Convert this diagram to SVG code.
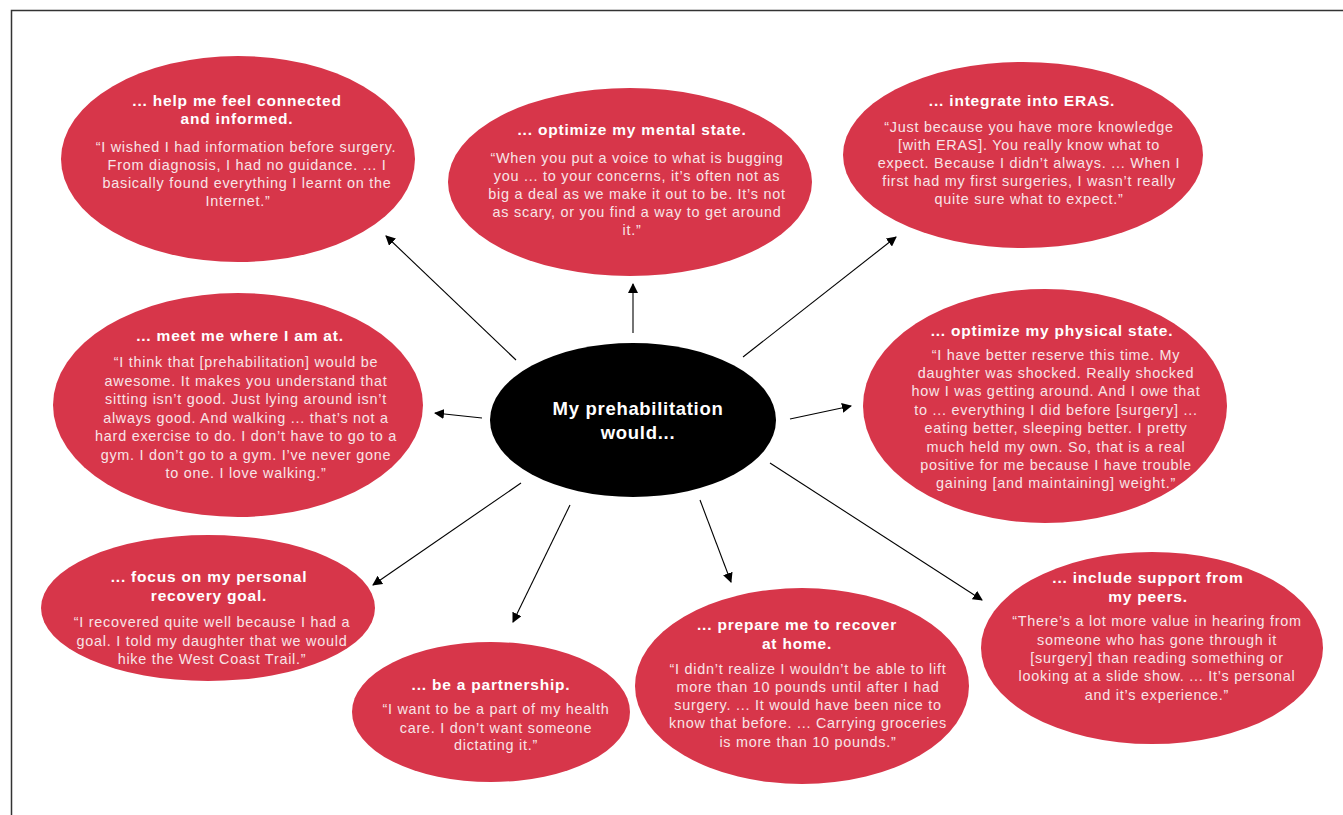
<svg xmlns="http://www.w3.org/2000/svg" width="1343" height="815" viewBox="0 0 1343 815">
<defs>
<marker id="ah" viewBox="0 0 10 10" refX="9" refY="5" markerWidth="10" markerHeight="10" markerUnits="userSpaceOnUse" orient="auto">
<path d="M0,0 L10,5 L0,10 z" fill="#000"/>
</marker>
<style>
.bub{fill:#d7364a}
.hub{fill:#000}
.t{font-family:"Liberation Sans",Arial,sans-serif;font-weight:bold;font-size:15.5px;fill:#fff;text-anchor:middle;letter-spacing:0.8px}
.q{font-family:"Liberation Sans",Arial,sans-serif;font-size:14.4px;fill:#f8e4e7;text-anchor:middle;letter-spacing:0.75px}
.c{font-family:"Liberation Sans",Arial,sans-serif;font-weight:bold;font-size:18.5px;fill:#fff;text-anchor:middle;letter-spacing:0.7px}
.ln{stroke:#000;stroke-width:1.1;fill:none;marker-end:url(#ah)}
</style>
</defs>
<rect width="1343" height="815" fill="#fff"/>
<path d="M11.5,815 L11.5,10.5 L1343,10.5" fill="none" stroke="#333" stroke-width="1.5"/>

<g id="connectors">
<line class="ln" x1="516" y1="360" x2="386" y2="236"/>
<line class="ln" x1="633" y1="333" x2="633" y2="284"/>
<line class="ln" x1="743" y1="357" x2="896" y2="237"/>
<line class="ln" x1="482" y1="418" x2="435" y2="413"/>
<line class="ln" x1="790" y1="419" x2="851" y2="406"/>
<line class="ln" x1="521" y1="483" x2="373" y2="585"/>
<line class="ln" x1="570" y1="505" x2="513" y2="622"/>
<line class="ln" x1="700" y1="500" x2="731" y2="582"/>
<line class="ln" x1="770" y1="463" x2="982" y2="600"/>
</g>

<g id="connected">
<ellipse class="bub" cx="238" cy="159" rx="177" ry="103"/>
<text class="t" x="237" y="106">... help me feel connected</text>
<text class="t" x="237" y="124">and informed.</text>
<text class="q" x="246" y="152">“I wished I had information before surgery.</text>
<text class="q" x="247" y="170">From diagnosis, I had no guidance. ... I</text>
<text class="q" x="247" y="188">basically found everything I learnt on the</text>
<text class="q" x="238" y="206">Internet.”</text>
</g>

<g id="mental">
<ellipse class="bub" cx="630" cy="182" rx="182" ry="94"/>
<text class="t" x="632" y="135">... optimize my mental state.</text>
<text class="q" x="637" y="163">“When you put a voice to what is bugging</text>
<text class="q" x="637" y="181">you ... to your concerns, it’s often not as</text>
<text class="q" x="637" y="199">big a deal as we make it out to be. It’s not</text>
<text class="q" x="637" y="217">as scary, or you find a way to get around</text>
<text class="q" x="632" y="235">it.”</text>
</g>

<g id="eras">
<ellipse class="bub" cx="1023" cy="155" rx="180" ry="93"/>
<text class="t" x="1022" y="106">... integrate into ERAS.</text>
<text class="q" x="1029" y="132">“Just because you have more knowledge</text>
<text class="q" x="1029" y="150">[with ERAS]. You really know what to</text>
<text class="q" x="1029" y="168">expect. Because I didn’t always. ... When I</text>
<text class="q" x="1029" y="186">first had my first surgeries, I wasn’t really</text>
<text class="q" x="1029" y="204">quite sure what to expect.”</text>
</g>

<g id="meet">
<ellipse class="bub" cx="238" cy="405" rx="185" ry="112"/>
<text class="t" x="240" y="341">... meet me where I am at.</text>
<text class="q" x="246" y="367">“I think that [prehabilitation] would be</text>
<text class="q" x="246" y="386">awesome. It makes you understand that</text>
<text class="q" x="246" y="404">sitting isn’t good. Just lying around isn’t</text>
<text class="q" x="246" y="423">always good. And walking ... that’s not a</text>
<text class="q" x="246" y="441">hard exercise to do. I don’t have to go to a</text>
<text class="q" x="246" y="460">gym. I don’t go to a gym. I’ve never gone</text>
<text class="q" x="246" y="478">to one. I love walking.”</text>
</g>

<g id="physical">
<ellipse class="bub" cx="1045" cy="406" rx="182" ry="117"/>
<text class="t" x="1052" y="336">... optimize my physical state.</text>
<text class="q" x="1056" y="360">“I have better reserve this time. My</text>
<text class="q" x="1056" y="378">daughter was shocked. Really shocked</text>
<text class="q" x="1056" y="396">how I was getting around. And I owe that</text>
<text class="q" x="1056" y="415">to ... everything I did before [surgery] ...</text>
<text class="q" x="1056" y="433">eating better, sleeping better. I pretty</text>
<text class="q" x="1056" y="452">much held my own. So, that is a real</text>
<text class="q" x="1056" y="470">positive for me because I have trouble</text>
<text class="q" x="1056" y="488">gaining [and maintaining] weight.”</text>
</g>

<g id="center">
<ellipse class="hub" cx="633" cy="420" rx="143" ry="77"/>
<text class="c" x="638" y="415">My prehabilitation</text>
<text class="c" x="638" y="439">would...</text>
</g>

<g id="goal">
<ellipse class="bub" cx="208" cy="608" rx="167" ry="73"/>
<text class="t" x="209" y="582">... focus on my personal</text>
<text class="t" x="209" y="601">recovery goal.</text>
<text class="q" x="212" y="627">“I recovered quite well because I had a</text>
<text class="q" x="212" y="646">goal. I told my daughter that we would</text>
<text class="q" x="212" y="664">hike the West Coast Trail.”</text>
</g>

<g id="partnership">
<ellipse class="bub" cx="491" cy="712" rx="139" ry="70"/>
<text class="t" x="491" y="690">... be a partnership.</text>
<text class="q" x="496" y="714">“I want to be a part of my health</text>
<text class="q" x="496" y="733">care. I don’t want someone</text>
<text class="q" x="496" y="750">dictating it.”</text>
</g>

<g id="home">
<ellipse class="bub" cx="802" cy="686" rx="167" ry="98"/>
<text class="t" x="797" y="630">... prepare me to recover</text>
<text class="t" x="797" y="649">at home.</text>
<text class="q" x="808" y="674">“I didn’t realize I wouldn’t be able to lift</text>
<text class="q" x="808" y="692">more than 10 pounds until after I had</text>
<text class="q" x="808" y="710">surgery. ... It would have been nice to</text>
<text class="q" x="808" y="728">know that before. ... Carrying groceries</text>
<text class="q" x="808" y="747">is more than 10 pounds.”</text>
</g>

<g id="peers">
<ellipse class="bub" cx="1152" cy="648" rx="171" ry="96"/>
<text class="t" x="1148" y="583">... include support from</text>
<text class="t" x="1148" y="602">my peers.</text>
<text class="q" x="1157" y="626">“There’s a lot more value in hearing from</text>
<text class="q" x="1157" y="645">someone who has gone through it</text>
<text class="q" x="1157" y="663">[surgery] than reading something or</text>
<text class="q" x="1157" y="681">looking at a slide show. ... It’s personal</text>
<text class="q" x="1157" y="700">and it’s experience.”</text>
</g>
</svg>
